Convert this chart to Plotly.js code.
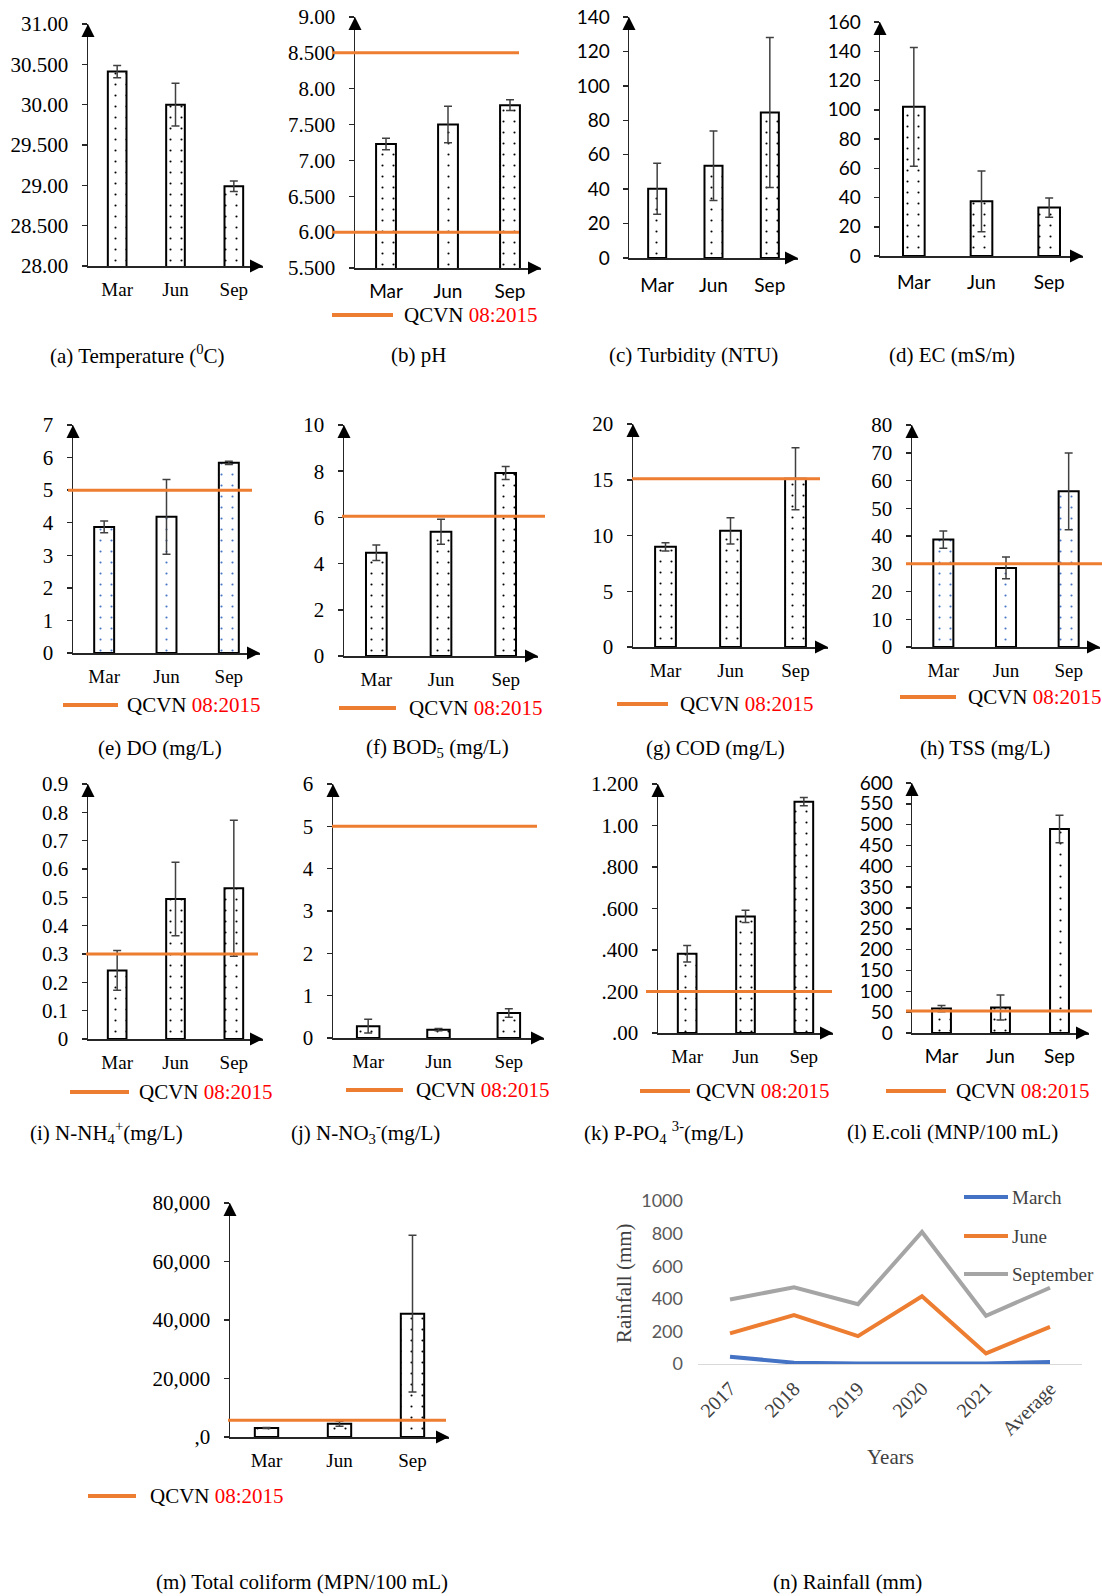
<!DOCTYPE html>
<html><head><meta charset="utf-8">
<script src="https://cdn.plot.ly/plotly-3.0.1.min.js"></script>
<style>html,body{margin:0;padding:0;background:#fff}#chart{width:1102px;height:1596px}</style>
</head><body><div id="chart"></div>
<script>
// ---------------- DATA ----------------
const months = ['Mar', 'Jun', 'Sep'];

const temp = [30.41, 30.00, 28.99];
const tempErr = [0.075, 0.265, 0.065];
const tempTickVals = [28, 28.5, 29, 29.5, 30, 30.5, 31];
const tempTickText = ['28.00', '28.500', '29.00', '29.500', '30.00', '30.500', '31.00'];

const ph = [7.23, 7.50, 7.77];
const phErr = [0.08, 0.255, 0.075];
const phLimits = [6.0, 8.5];
const phTickVals = [5.5, 6, 6.5, 7, 7.5, 8, 8.5, 9];
const phTickText = ['5.500', '6.00', '6.500', '7.00', '7.500', '8.00', '8.500', '9.00'];

const turbidity = [40.2, 53.6, 84.5];
const turbidityErr = [14.8, 20.2, 43.6];

const ec = [102, 37.4, 33.1];
const ecErr = [40.6, 20.8, 6.6];

const dissolvedO2 = [3.87, 4.18, 5.84];
const dissolvedO2Err = [0.18, 1.15, 0.05];
const doLimit = [5];

const bod5 = [4.47, 5.38, 7.92];
const bod5Err = [0.34, 0.54, 0.28];
const bodLimit = [6.05];

const cod = [8.98, 10.42, 15.09];
const codErr = [0.36, 1.18, 2.77];
const codLimit = [15.1];

const tss = [38.7, 28.5, 56.1];
const tssErr = [3.1, 3.95, 13.85];
const tssLimit = [30];

const nh4 = [0.242, 0.494, 0.532];
const nh4Err = [0.07, 0.13, 0.24];
const nh4Limit = [0.3];

const no3 = [0.28, 0.197, 0.59];
const no3Err = [0.16, 0.025, 0.10];
const no3Limit = [5];

const po4 = [0.382, 0.562, 1.115];
const po4Err = [0.04, 0.03, 0.02];
const po4Limit = [0.2];
const po4TickVals = [0, 0.2, 0.4, 0.6, 0.8, 1.0, 1.2];
const po4TickText = ['.00', '.200', '.400', '.600', '.800', '1.00', '1.200'];

const ecoli = [58.6, 61, 489.6];
const ecoliErr = [7.5, 30, 33.3];
const ecoliLimit = [53];

const coliform = [3080, 4560, 42170];
const coliformErr = [200, 850, 26780];
const coliformLimit = [5700];
const coliformTickVals = [0, 20000, 40000, 60000, 80000];
const coliformTickText = [',0', '20,000', '40,000', '60,000', '80,000'];

const years = ['2017', '2018', '2019', '2020', '2021', 'Average'];
const rainSeries = ['March', 'June', 'September'];
const rainMarch = [45, 8, 3, 2, 3, 12];
const rainJune = [188, 300, 171, 416, 65, 228];
const rainSept = [396, 471, 367, 810, 296, 468];

const legendLabel = 'QCVN <span style="color:#FF0000">08:2015</span>';

// ---------------- LAYOUT HELPERS ----------------
const W = 1102, H = 1596;
const SERIF = 'Liberation Serif, Times New Roman, serif';
const SANS = 'Lato, Carlito, Calibri, sans-serif';
const ORANGE = '#ED7D31';
const BLUE = '#4472C4';
const GRAY = '#A5A5A5';
const AX = '#262626';
const px = v => v / W, py = v => 1 - v / H;

const panels = [
  {vals: temp, err: tempErr, x: [88, 263], y: [24, 266], range: [28, 31], tv: tempTickVals, tt: tempTickText, yf: SERIF, xf: SERIF,
   cap: '(a) Temperature (<sup>0</sup>C)', capX: 137, capY: 355},
  {vals: ph, err: phErr, x: [355, 541], y: [17, 268], range: [5.5, 9], tv: phTickVals, tt: phTickText, yf: SERIF, xf: SANS,
   lim: phLimits, limX: [333, 519], leg: [332, 393, 402, 315], cap: '(b) pH', capX: 418, capY: 355},
  {vals: turbidity, err: turbidityErr, x: [629, 798], y: [17, 258], range: [0, 140], dtick: 20, yf: SANS, xf: SANS, cs: 10,
   cap: '(c) Turbidity (NTU)', capX: 693, capY: 355},
  {vals: ec, err: ecErr, x: [880, 1083], y: [22, 256], range: [0, 160], dtick: 20, yf: SANS, xf: SANS, cs: 9,
   cap: '(d) EC (mS/m)', capX: 952, capY: 355},
  {vals: dissolvedO2, err: dissolvedO2Err, x: [73, 260], y: [425, 653], range: [0, 7], dtick: 1, yf: SERIF, xf: SERIF, dot: BLUE,
   lim: doLimit, limX: [68, 252], leg: [63, 118, 125, 705], cap: '(e) DO (mg/L)', capX: 160, capY: 748},
  {vals: bod5, err: bod5Err, x: [344, 538], y: [425, 656], range: [0, 10], dtick: 2, yf: SERIF, xf: SERIF,
   lim: bodLimit, limX: [342, 545], leg: [339, 396, 407, 708], cap: '(f) BOD<sub>5</sub> (mg/L)', capX: 437, capY: 748},
  {vals: cod, err: codErr, x: [633, 828], y: [424, 647], range: [0, 20], dtick: 5, yf: SERIF, xf: SERIF,
   lim: codLimit, limX: [632, 820], leg: [617, 668, 678, 704], cap: '(g) COD (mg/L)', capX: 715, capY: 748},
  {vals: tss, err: tssErr, x: [912, 1100], y: [425, 647], range: [0, 80], dtick: 10, yf: SERIF, xf: SERIF, dot: BLUE,
   lim: tssLimit, limX: [906, 1102], leg: [900, 956, 966, 697], cap: '(h) TSS (mg/L)', capX: 985, capY: 748},
  {vals: nh4, err: nh4Err, x: [88, 263], y: [784, 1039], range: [0, 0.9], dtick: 0.1, yf: SERIF, xf: SERIF,
   lim: nh4Limit, limX: [86, 258], leg: [70, 129, 137, 1092], cap: '(i) N-NH<sub>4</sub><sup>+</sup>(mg/L)', capX: 107, capY: 1132},
  {vals: no3, err: no3Err, x: [333, 544], y: [784, 1038], range: [0, 6], dtick: 1, yf: SERIF, xf: SERIF,
   lim: no3Limit, limX: [332, 537], leg: [346, 403, 414, 1090], cap: '(j) N-NO<sub>3</sub><sup>-</sup>(mg/L)', capX: 365, capY: 1132},
  {vals: po4, err: po4Err, x: [658, 833], y: [784, 1033], range: [0, 1.2], tv: po4TickVals, tt: po4TickText, yf: SERIF, xf: SERIF,
   lim: po4Limit, limX: [646, 832], leg: [640, 690, 694, 1091], cap: '(k) P-PO<sub>4</sub> <sup>3-</sup>(mg/L)', capX: 664, capY: 1132},
  {vals: ecoli, err: ecoliErr, x: [912, 1089], y: [783, 1033], range: [0, 600], dtick: 50, yf: SANS, xf: SANS,
   lim: ecoliLimit, limX: [906, 1092], leg: [886, 946, 954, 1091], cap: '(l) E.coli (MNP/100 mL)', capX: 952, capY: 1132},
  {vals: coliform, err: coliformErr, x: [230, 449], y: [1203, 1437], range: [0, 80000], tv: coliformTickVals, tt: coliformTickText, yf: SERIF, xf: SERIF,
   lim: coliformLimit, limX: [228, 446], leg: [88, 136, 148, 1496], cap: '(m) Total coliform (MPN/100 mL)', capX: 302, capY: 1582}
];

const layout = {
  width: W, height: H, autosize: false,
  margin: {l: 0, r: 0, t: 0, b: 0},
  paper_bgcolor: 'white', plot_bgcolor: 'rgba(0,0,0,0)',
  showlegend: false, bargap: 0.68,
  shapes: [], annotations: []
};
const traces = [];

panels.forEach((p, i) => {
  const n = i + 1;
  const xa = n === 1 ? 'x' : 'x' + n, ya = n === 1 ? 'y' : 'y' + n;
  const xk = n === 1 ? 'xaxis' : 'xaxis' + n, yk = n === 1 ? 'yaxis' : 'yaxis' + n;
  traces.push({
    type: 'bar', x: months, y: p.vals, xaxis: xa, yaxis: ya, hoverinfo: 'skip',
    marker: {color: 'white', line: {color: 'black', width: 2},
      pattern: {shape: '.', fgcolor: p.dot || 'black', bgcolor: 'white', size: 11, solidity: 0.03}},
    error_y: {type: 'data', array: p.err, visible: true, color: '#404040', thickness: 1.5, width: 4}
  });
  layout[xk] = {
    domain: [px(p.x[0]), px(p.x[1])], anchor: ya, type: 'category', range: [-0.5, 2.5],
    showline: true, linecolor: AX, linewidth: 1.5, ticks: '', showgrid: false, zeroline: false,
    tickfont: {family: p.xf, size: 19, color: 'black'}, ticklabelstandoff: p.cs || 6, fixedrange: true
  };
  const yax = {
    domain: [py(p.y[1]), py(p.y[0])], anchor: xa, range: p.range,
    showline: true, linecolor: AX, linewidth: 1.5, ticks: 'outside', ticklen: 5, tickwidth: 1.5, tickcolor: AX,
    showgrid: false, zeroline: false, tickfont: {family: p.yf, size: p.yf === SANS ? 19 : 21, color: 'black'},
    ticklabelstandoff: 9, fixedrange: true
  };
  if (p.tv) { yax.tickmode = 'array'; yax.tickvals = p.tv; yax.ticktext = p.tt; }
  else { yax.tick0 = 0; yax.dtick = p.dtick; }
  layout[yk] = yax;

  // axis arrowheads (pixel-sized triangles anchored at the axis ends)
  layout.shapes.push({type: 'path', xref: xa + ' domain', yref: ya + ' domain', xsizemode: 'pixel', ysizemode: 'pixel',
    xanchor: 0, yanchor: 1, path: 'M-6.5,-13 L6.5,-13 L0,0 Z', fillcolor: 'black', line: {width: 0}, layer: 'above'});
  layout.shapes.push({type: 'path', xref: xa + ' domain', yref: ya + ' domain', xsizemode: 'pixel', ysizemode: 'pixel',
    xanchor: 1, yanchor: 0, path: 'M-13,-6.5 L-13,6.5 L0,0 Z', fillcolor: 'black', line: {width: 0}, layer: 'above'});

  // standard limits
  if (p.lim) {
    p.lim.forEach(v => layout.shapes.push({type: 'line', xref: 'paper', yref: ya,
      x0: px(p.limX[0]), x1: px(p.limX[1]), y0: v, y1: v, line: {color: ORANGE, width: 3}, layer: 'above'}));
  }
  if (p.leg) {
    layout.shapes.push({type: 'line', xref: 'paper', yref: 'paper', x0: px(p.leg[0]), x1: px(p.leg[1]),
      y0: py(p.leg[3]), y1: py(p.leg[3]), line: {color: ORANGE, width: 4}});
    layout.annotations.push({xref: 'paper', yref: 'paper', x: px(p.leg[2]), y: py(p.leg[3]), xanchor: 'left', yanchor: 'middle',
      text: legendLabel, showarrow: false, font: {family: SERIF, size: 21, color: 'black'}});
  }
  layout.annotations.push({xref: 'paper', yref: 'paper', x: px(p.capX), y: py(p.capY), xanchor: 'center', yanchor: 'middle',
    text: p.cap, showarrow: false, font: {family: SERIF, size: 21, color: 'black'}});
});

// ---------------- RAINFALL PANEL ----------------
const rn = panels.length + 1;
const rxa = 'x' + rn, rya = 'y' + rn;
const rainData = [rainMarch, rainJune, rainSept];
const rainColors = [BLUE, ORANGE, GRAY];
rainData.forEach((d, k) => traces.push({type: 'scatter', mode: 'lines', x: years, y: d, name: rainSeries[k],
  xaxis: rxa, yaxis: rya, line: {color: rainColors[k], width: 4}, hoverinfo: 'skip'}));
layout['xaxis' + rn] = {domain: [px(698), px(1082)], anchor: rya, type: 'category', range: [-0.5, 5.5],
  showline: true, linecolor: '#D9D9D9', linewidth: 1.2, ticks: '', showgrid: false, zeroline: false, tickangle: -45,
  tickfont: {family: SERIF, size: 20, color: '#404040'}, ticklabelstandoff: 4, fixedrange: true};
layout['yaxis' + rn] = {domain: [py(1364), py(1201)], anchor: rxa, range: [0, 1000], tick0: 0, dtick: 200,
  showline: false, ticks: '', showgrid: false, zeroline: false,
  tickfont: {family: SANS, size: 18, color: '#595959'}, ticklabelstandoff: 14, fixedrange: true};
layout.annotations.push({xref: 'paper', yref: 'paper', x: px(624), y: py(1283), textangle: -90, xanchor: 'center', yanchor: 'middle',
  text: 'Rainfall (mm)', showarrow: false, font: {family: SERIF, size: 21, color: '#404040'}});
layout.annotations.push({xref: 'paper', yref: 'paper', x: px(890), y: py(1457), xanchor: 'center', yanchor: 'middle',
  text: 'Years', showarrow: false, font: {family: SERIF, size: 21, color: '#404040'}});
const legY = [1197, 1236, 1274];
rainSeries.forEach((s, k) => {
  layout.shapes.push({type: 'line', xref: 'paper', yref: 'paper', x0: px(964), x1: px(1008), y0: py(legY[k]), y1: py(legY[k]),
    line: {color: rainColors[k], width: 4}});
  layout.annotations.push({xref: 'paper', yref: 'paper', x: px(1010), y: py(legY[k]), xanchor: 'left', yanchor: 'middle',
    text: s, showarrow: false, font: {family: SERIF, size: 19, color: '#404040'}});
});
layout.annotations.push({xref: 'paper', yref: 'paper', x: px(847), y: py(1582), xanchor: 'center', yanchor: 'middle',
  text: '(n) Rainfall (mm)', showarrow: false, font: {family: SERIF, size: 21, color: 'black'}});

Plotly.newPlot('chart', traces, layout, {staticPlot: true, displayModeBar: false});
</script>
</body></html>
